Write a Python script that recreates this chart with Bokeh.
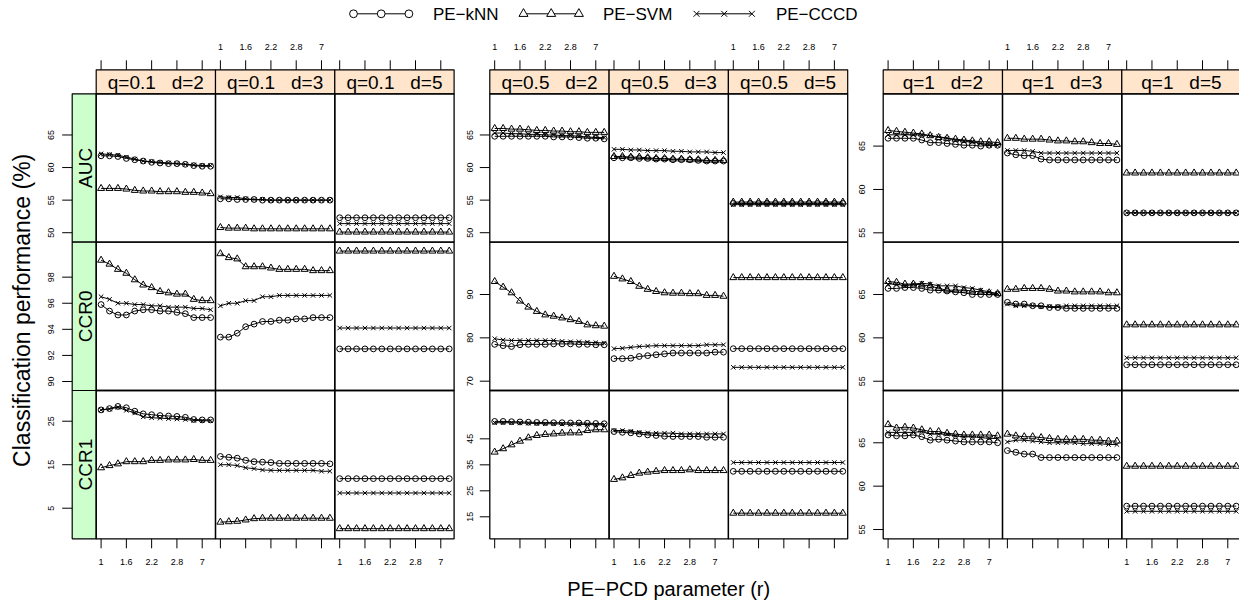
import numpy as np
from bokeh.plotting import figure
from bokeh.models import Range1d
from bokeh.embed import file_html
from bokeh.resources import INLINE
from bokeh.core.properties import value

# ---------------- data ----------------
r_labels = ["1", "1.2", "1.4", "1.6", "1.8", "2", "2.2", "2.4", "2.6", "2.8", "3", "5", "7", "9"]
x_index = list(range(1, 15))
x_tick_index = [1, 4, 7, 10, 13]
x_tick_labels = ["1", "1.6", "2.2", "2.8", "7"]

q_values = ["0.1", "0.5", "1"]
d_values = [2, 3, 5]
measures = ["AUC", "CCR0", "CCR1"]
methods = ["kNN", "SVM", "CCCD"]
method_labels = ["PE\u2212kNN", "PE\u2212SVM", "PE\u2212CCCD"]

# q = 0.1
q01_d2_AUC = dict(
    kNN=[61.8, 61.8, 61.7, 61.4, 61.2, 61.0, 60.8, 60.7, 60.6, 60.6, 60.5, 60.3, 60.2, 60.2],
    SVM=[56.8, 56.8, 56.8, 56.7, 56.5, 56.4, 56.4, 56.3, 56.3, 56.3, 56.2, 56.2, 56.1, 56.0],
    CCCD=[62.1, 62.0, 61.9, 61.6, 61.3, 61.0, 60.9, 60.8, 60.7, 60.6, 60.5, 60.4, 60.3, 60.3])
q01_d3_AUC = dict(
    kNN=[55.2, 55.2, 55.1, 55.1, 55.1, 55.0, 55.0, 55.0, 55.0, 55.0, 55.0, 55.0, 55.0, 55.0],
    SVM=[50.8, 50.7, 50.7, 50.7, 50.6, 50.6, 50.6, 50.6, 50.6, 50.6, 50.6, 50.6, 50.6, 50.6],
    CCCD=[55.5, 55.4, 55.4, 55.2, 55.1, 55.1, 55.0, 55.0, 55.0, 55.0, 55.0, 55.0, 55.0, 55.0])
q01_d5_AUC = dict(
    kNN=[52.3, 52.3, 52.3, 52.3, 52.3, 52.3, 52.3, 52.3, 52.3, 52.3, 52.3, 52.3, 52.3, 52.3],
    SVM=[50.1, 50.1, 50.1, 50.1, 50.1, 50.1, 50.1, 50.1, 50.1, 50.1, 50.1, 50.1, 50.1, 50.1],
    CCCD=[51.4, 51.4, 51.4, 51.4, 51.4, 51.4, 51.4, 51.4, 51.4, 51.4, 51.4, 51.4, 51.4, 51.4])
q01_d2_CCR0 = dict(
    kNN=[95.9, 95.4, 95.1, 95.1, 95.4, 95.5, 95.5, 95.4, 95.4, 95.3, 95.2, 94.9, 94.9, 94.9],
    SVM=[99.3, 99.0, 98.6, 98.3, 97.8, 97.4, 97.2, 96.9, 96.8, 96.7, 96.7, 96.3, 96.2, 96.2],
    CCCD=[96.5, 96.3, 96.0, 96.0, 95.9, 95.9, 95.8, 95.8, 95.7, 95.7, 95.7, 95.6, 95.6, 95.5])
q01_d3_CCR0 = dict(
    kNN=[93.4, 93.4, 93.7, 94.2, 94.4, 94.6, 94.6, 94.7, 94.7, 94.8, 94.8, 94.9, 94.9, 94.9],
    SVM=[99.8, 99.5, 99.4, 98.8, 98.8, 98.8, 98.7, 98.6, 98.6, 98.6, 98.6, 98.5, 98.5, 98.5],
    CCCD=[95.8, 96.0, 96.0, 96.2, 96.2, 96.5, 96.5, 96.6, 96.6, 96.6, 96.6, 96.6, 96.6, 96.6])
q01_d5_CCR0 = dict(
    kNN=[92.5, 92.5, 92.5, 92.5, 92.5, 92.5, 92.5, 92.5, 92.5, 92.5, 92.5, 92.5, 92.5, 92.5],
    SVM=[100.0, 100.0, 100.0, 100.0, 100.0, 100.0, 100.0, 100.0, 100.0, 100.0, 100.0, 100.0, 100.0, 100.0],
    CCCD=[94.1, 94.1, 94.1, 94.1, 94.1, 94.1, 94.1, 94.1, 94.1, 94.1, 94.1, 94.1, 94.1, 94.1])
q01_d2_CCR1 = dict(
    kNN=[27.6, 27.9, 28.4, 28.1, 27.3, 26.7, 26.5, 26.3, 26.2, 26.1, 25.9, 25.4, 25.3, 25.3],
    SVM=[14.3, 14.8, 15.2, 15.7, 15.7, 15.7, 16.0, 16.0, 16.1, 16.1, 16.1, 16.2, 16.0, 16.0],
    CCCD=[27.6, 27.8, 28.2, 27.5, 26.9, 26.0, 25.8, 25.7, 25.6, 25.5, 25.4, 25.2, 25.1, 25.1])
q01_d3_CCR1 = dict(
    kNN=[16.9, 16.7, 16.5, 16.0, 15.7, 15.6, 15.5, 15.3, 15.3, 15.3, 15.3, 15.3, 15.3, 15.2],
    SVM=[1.8, 1.9, 2.0, 2.3, 2.6, 2.7, 2.7, 2.7, 2.7, 2.7, 2.7, 2.7, 2.7, 2.7],
    CCCD=[15.0, 15.0, 14.8, 14.3, 14.1, 13.8, 13.7, 13.7, 13.7, 13.7, 13.7, 13.7, 13.5, 13.5])
q01_d5_CCR1 = dict(
    kNN=[11.8, 11.8, 11.8, 11.8, 11.8, 11.8, 11.8, 11.8, 11.8, 11.8, 11.8, 11.8, 11.8, 11.8],
    SVM=[0.3, 0.3, 0.3, 0.3, 0.3, 0.3, 0.3, 0.3, 0.3, 0.3, 0.3, 0.3, 0.3, 0.3],
    CCCD=[8.5, 8.5, 8.5, 8.5, 8.5, 8.5, 8.5, 8.5, 8.5, 8.5, 8.5, 8.5, 8.5, 8.5])

# q = 0.5
q05_d2_AUC = dict(
    kNN=[64.8, 64.8, 64.8, 64.8, 64.8, 64.8, 64.8, 64.7, 64.7, 64.7, 64.6, 64.5, 64.5, 64.4],
    SVM=[66.0, 66.0, 65.9, 65.9, 65.8, 65.7, 65.7, 65.6, 65.6, 65.5, 65.5, 65.4, 65.4, 65.4],
    CCCD=[65.3, 65.3, 65.2, 65.2, 65.1, 65.1, 65.0, 65.0, 64.9, 64.9, 64.8, 64.7, 64.6, 64.6])
q05_d3_AUC = dict(
    kNN=[61.5, 61.5, 61.5, 61.4, 61.4, 61.3, 61.3, 61.2, 61.2, 61.2, 61.1, 61.0, 61.0, 61.0],
    SVM=[61.7, 61.7, 61.6, 61.6, 61.5, 61.4, 61.4, 61.3, 61.3, 61.2, 61.2, 61.1, 61.1, 61.1],
    CCCD=[62.8, 62.8, 62.7, 62.7, 62.6, 62.6, 62.6, 62.5, 62.5, 62.4, 62.4, 62.4, 62.3, 62.3])
q05_d5_AUC = dict(
    kNN=[54.5, 54.5, 54.5, 54.5, 54.5, 54.5, 54.5, 54.5, 54.5, 54.5, 54.5, 54.5, 54.5, 54.5],
    SVM=[54.7, 54.7, 54.7, 54.7, 54.7, 54.7, 54.7, 54.7, 54.7, 54.7, 54.7, 54.7, 54.7, 54.7],
    CCCD=[54.3, 54.3, 54.3, 54.3, 54.3, 54.3, 54.3, 54.3, 54.3, 54.3, 54.3, 54.3, 54.3, 54.3])
q05_d2_CCR0 = dict(
    kNN=[78.5, 78.2, 78.0, 78.4, 78.5, 78.5, 78.5, 78.6, 78.6, 78.6, 78.5, 78.5, 78.4, 78.4],
    SVM=[93.0, 91.7, 90.4, 88.5, 87.1, 86.1, 85.3, 85.0, 84.6, 84.2, 83.8, 83.0, 82.8, 82.7],
    CCCD=[79.8, 79.5, 79.4, 79.4, 79.4, 79.4, 79.4, 79.4, 79.2, 79.1, 79.1, 79.0, 78.9, 78.8])
q05_d3_CCR0 = dict(
    kNN=[75.2, 75.2, 75.3, 75.7, 75.9, 76.1, 76.3, 76.5, 76.5, 76.5, 76.5, 76.5, 76.7, 76.7],
    SVM=[94.2, 93.6, 93.0, 91.9, 91.2, 90.7, 90.4, 90.3, 90.3, 90.2, 90.2, 89.8, 89.8, 89.6],
    CCCD=[77.5, 77.6, 77.8, 78.0, 78.1, 78.2, 78.2, 78.2, 78.2, 78.2, 78.2, 78.4, 78.4, 78.4])
q05_d5_CCR0 = dict(
    kNN=[77.5, 77.5, 77.5, 77.5, 77.5, 77.5, 77.5, 77.5, 77.5, 77.5, 77.5, 77.5, 77.5, 77.5],
    SVM=[93.9, 93.9, 93.9, 93.9, 93.9, 93.9, 93.9, 93.9, 93.9, 93.9, 93.9, 93.9, 93.9, 93.9],
    CCCD=[73.2, 73.2, 73.2, 73.2, 73.2, 73.2, 73.2, 73.2, 73.2, 73.2, 73.2, 73.2, 73.2, 73.2])
q05_d2_CCR1 = dict(
    kNN=[51.7, 51.7, 51.6, 51.5, 51.4, 51.3, 51.3, 51.2, 51.2, 51.1, 51.1, 51.0, 50.9, 50.8],
    SVM=[39.9, 41.2, 42.7, 44.1, 45.4, 46.3, 46.7, 46.9, 47.2, 47.3, 47.3, 48.2, 48.5, 48.5],
    CCCD=[51.2, 51.2, 51.2, 51.1, 51.0, 50.9, 50.8, 50.8, 50.7, 50.6, 50.6, 50.5, 50.4, 50.4])
q05_d3_CCR1 = dict(
    kNN=[47.8, 47.5, 47.3, 46.9, 46.5, 46.3, 46.0, 45.9, 45.9, 45.9, 45.9, 45.6, 45.6, 45.6],
    SVM=[29.4, 30.0, 30.9, 31.8, 32.2, 32.5, 32.8, 32.8, 32.8, 33.1, 32.8, 32.8, 32.8, 32.8],
    CCCD=[48.2, 48.2, 47.9, 47.5, 47.3, 47.2, 47.2, 47.2, 46.9, 46.9, 46.9, 46.9, 46.9, 46.9])
q05_d5_CCR1 = dict(
    kNN=[32.5, 32.5, 32.5, 32.5, 32.5, 32.5, 32.5, 32.5, 32.5, 32.5, 32.5, 32.5, 32.5, 32.5],
    SVM=[16.4, 16.4, 16.4, 16.4, 16.4, 16.4, 16.4, 16.4, 16.4, 16.4, 16.4, 16.4, 16.4, 16.4],
    CCCD=[35.9, 35.9, 35.9, 35.9, 35.9, 35.9, 35.9, 35.9, 35.9, 35.9, 35.9, 35.9, 35.9, 35.9])

# q = 1
q1_d2_AUC = dict(
    kNN=[65.9, 65.9, 65.9, 65.9, 65.7, 65.4, 65.4, 65.3, 65.2, 65.1, 65.1, 65.0, 65.1, 65.1],
    SVM=[66.8, 66.7, 66.6, 66.5, 66.4, 66.2, 66.0, 65.9, 65.8, 65.7, 65.6, 65.5, 65.5, 65.4],
    CCCD=[66.3, 66.3, 66.3, 66.3, 66.3, 66.2, 66.1, 65.9, 65.7, 65.6, 65.5, 65.3, 65.1, 65.1])
q1_d3_AUC = dict(
    kNN=[64.2, 64.0, 63.9, 63.9, 63.5, 63.4, 63.4, 63.4, 63.4, 63.4, 63.4, 63.4, 63.4, 63.4],
    SVM=[65.9, 65.9, 65.8, 65.8, 65.8, 65.7, 65.6, 65.6, 65.5, 65.5, 65.4, 65.3, 65.3, 65.2],
    CCCD=[64.5, 64.5, 64.5, 64.4, 64.2, 64.2, 64.2, 64.2, 64.2, 64.2, 64.2, 64.2, 64.2, 64.2])
q1_d5_AUC = dict(
    kNN=[57.3, 57.3, 57.3, 57.3, 57.3, 57.3, 57.3, 57.3, 57.3, 57.3, 57.3, 57.3, 57.3, 57.3],
    SVM=[61.9, 61.9, 61.9, 61.9, 61.9, 61.9, 61.9, 61.9, 61.9, 61.9, 61.9, 61.9, 61.9, 61.9],
    CCCD=[57.3, 57.3, 57.3, 57.3, 57.3, 57.3, 57.3, 57.3, 57.3, 57.3, 57.3, 57.3, 57.3, 57.3])
q1_d2_CCR0 = dict(
    kNN=[65.7, 65.7, 65.8, 65.8, 65.7, 65.5, 65.5, 65.4, 65.3, 65.2, 65.0, 65.0, 65.0, 65.0],
    SVM=[66.5, 66.4, 66.2, 66.2, 66.1, 66.0, 65.7, 65.5, 65.5, 65.5, 65.4, 65.3, 65.2, 65.1],
    CCCD=[66.2, 66.2, 66.0, 66.2, 66.3, 66.2, 66.0, 66.0, 66.0, 65.8, 65.7, 65.5, 65.3, 65.1])
q1_d3_CCR0 = dict(
    kNN=[64.1, 63.9, 63.9, 63.7, 63.7, 63.5, 63.5, 63.4, 63.4, 63.4, 63.4, 63.4, 63.4, 63.4],
    SVM=[65.6, 65.6, 65.7, 65.7, 65.7, 65.6, 65.4, 65.4, 65.3, 65.3, 65.3, 65.3, 65.2, 65.2],
    CCCD=[63.9, 63.7, 63.7, 63.7, 63.6, 63.6, 63.6, 63.7, 63.7, 63.7, 63.7, 63.7, 63.7, 63.7])
q1_d5_CCR0 = dict(
    kNN=[56.9, 56.9, 56.9, 56.9, 56.9, 56.9, 56.9, 56.9, 56.9, 56.9, 56.9, 56.9, 56.9, 56.9],
    SVM=[61.5, 61.5, 61.5, 61.5, 61.5, 61.5, 61.5, 61.5, 61.5, 61.5, 61.5, 61.5, 61.5, 61.5],
    CCCD=[57.7, 57.7, 57.7, 57.7, 57.7, 57.7, 57.7, 57.7, 57.7, 57.7, 57.7, 57.7, 57.7, 57.7])
q1_d2_CCR1 = dict(
    kNN=[65.9, 65.8, 65.8, 65.9, 65.7, 65.3, 65.4, 65.3, 65.2, 65.1, 65.1, 65.1, 65.1, 65.0],
    SVM=[67.1, 66.7, 66.8, 66.7, 66.5, 66.3, 66.3, 66.1, 66.0, 65.9, 65.9, 65.9, 65.9, 65.8],
    CCCD=[66.2, 66.2, 66.2, 66.2, 66.3, 66.0, 66.0, 66.0, 65.8, 65.7, 65.7, 65.6, 65.5, 65.5])
q1_d3_CCR1 = dict(
    kNN=[64.1, 63.9, 63.7, 63.7, 63.3, 63.3, 63.3, 63.3, 63.3, 63.3, 63.3, 63.3, 63.3, 63.3],
    SVM=[66.0, 65.8, 65.7, 65.7, 65.6, 65.5, 65.4, 65.4, 65.4, 65.4, 65.3, 65.3, 65.2, 65.2],
    CCCD=[65.1, 65.3, 65.3, 65.2, 65.1, 65.0, 65.0, 65.0, 65.0, 64.9, 64.9, 64.9, 64.8, 64.8])
q1_d5_CCR1 = dict(
    kNN=[57.7, 57.7, 57.7, 57.7, 57.7, 57.7, 57.7, 57.7, 57.7, 57.7, 57.7, 57.7, 57.7, 57.7],
    SVM=[62.3, 62.3, 62.3, 62.3, 62.3, 62.3, 62.3, 62.3, 62.3, 62.3, 62.3, 62.3, 62.3, 62.3],
    CCCD=[57.1, 57.1, 57.1, 57.1, 57.1, 57.1, 57.1, 57.1, 57.1, 57.1, 57.1, 57.1, 57.1, 57.1])

panels = {
    ("0.1", 2, "AUC"): q01_d2_AUC, ("0.1", 3, "AUC"): q01_d3_AUC, ("0.1", 5, "AUC"): q01_d5_AUC,
    ("0.1", 2, "CCR0"): q01_d2_CCR0, ("0.1", 3, "CCR0"): q01_d3_CCR0, ("0.1", 5, "CCR0"): q01_d5_CCR0,
    ("0.1", 2, "CCR1"): q01_d2_CCR1, ("0.1", 3, "CCR1"): q01_d3_CCR1, ("0.1", 5, "CCR1"): q01_d5_CCR1,
    ("0.5", 2, "AUC"): q05_d2_AUC, ("0.5", 3, "AUC"): q05_d3_AUC, ("0.5", 5, "AUC"): q05_d5_AUC,
    ("0.5", 2, "CCR0"): q05_d2_CCR0, ("0.5", 3, "CCR0"): q05_d3_CCR0, ("0.5", 5, "CCR0"): q05_d5_CCR0,
    ("0.5", 2, "CCR1"): q05_d2_CCR1, ("0.5", 3, "CCR1"): q05_d3_CCR1, ("0.5", 5, "CCR1"): q05_d5_CCR1,
    ("1", 2, "AUC"): q1_d2_AUC, ("1", 3, "AUC"): q1_d3_AUC, ("1", 5, "AUC"): q1_d5_AUC,
    ("1", 2, "CCR0"): q1_d2_CCR0, ("1", 3, "CCR0"): q1_d3_CCR0, ("1", 5, "CCR0"): q1_d5_CCR0,
    ("1", 2, "CCR1"): q1_d2_CCR1, ("1", 3, "CCR1"): q1_d3_CCR1, ("1", 5, "CCR1"): q1_d5_CCR1,
}

# axis limits and ticks for each (q, measure)
y_limits = {
    ("0.1", "AUC"): (48.56, 71.32), ("0.1", "CCR0"): (89.31, 100.68), ("0.1", "CCR1"): (-2.03, 32.06),
    ("0.5", "AUC"): (48.56, 71.32), ("0.5", "CCR0"): (67.85, 102.07), ("0.5", "CCR1"): (6.54, 63.6),
    ("1", "AUC"): (53.93, 71.03), ("1", "CCR0"): (53.93, 71.03), ("1", "CCR1"): (53.93, 71.03),
}
y_ticks = {
    ("0.1", "AUC"): [50, 55, 60, 65], ("0.1", "CCR0"): [90, 92, 94, 96, 98], ("0.1", "CCR1"): [5, 15, 25],
    ("0.5", "AUC"): [50, 55, 60, 65], ("0.5", "CCR0"): [70, 80, 90], ("0.5", "CCR1"): [15, 25, 35, 45],
    ("1", "AUC"): [55, 60, 65], ("1", "CCR0"): [55, 60, 65], ("1", "CCR1"): [55, 60, 65],
}
X_LO, X_HI = 0.42, 14.58

# ---------------- layout (pixels) ----------------
W, H = 1239, 603
GX = [95.7, 489.3, 882.7]
PW = 119.3
RY = [93.3, 241.7, 390.0]
PH = 148.3
STRIP_TOP = 69.3
GREEN_LEFT = 71.7
TICK = 9.5
YLAB_X = [50.0, 469.0, 861.0]
TOP_LABEL_COLS = {0: [1], 1: [0, 2], 2: [1]}
BOTTOM_LABEL_COLS = {0: [0, 2], 1: [1], 2: [0, 2]}
FONT = value("Liberation Sans")
PEACH = "#ffe5cc"
GREEN = "#ccffcc"
MARKERS = {"kNN": ("circle", 5.8), "SVM": ("triangle", 7.0), "CCCD": ("x", 6.3)}
NB = "\u00a0"


def xrange_for(px0, px1, lo, hi):
    s = (hi - lo) / (px1 - px0)
    start = lo - px0 * s
    return Range1d(start=start, end=start + W * s)


def yrange_for(pytop, pybot, lo, hi):
    s = (hi - lo) / (pybot - pytop)
    return Range1d(start=lo - (H - pybot) * s, end=hi + pytop * s)


p = figure(width=W, height=H, x_range=Range1d(0, W), y_range=Range1d(H, 0),
           x_axis_type=None, y_axis_type=None, toolbar_location=None,
           min_border=0, output_backend="svg", title=None)
p.outline_line_color = None
p.background_fill_color = "white"
p.border_fill_color = "white"

xr, yr = {}, {}
for gi in range(3):
    for ci in range(3):
        px0 = GX[gi] + ci * PW
        xr[f"x{gi}{ci}"] = xrange_for(px0, px0 + PW, X_LO, X_HI)
    for ri, m in enumerate(measures):
        lo, hi = y_limits[(q_values[gi], m)]
        yr[f"y{gi}{ri}"] = yrange_for(RY[ri], RY[ri] + PH, lo, hi)
p.extra_x_ranges = xr
p.extra_y_ranges = yr

# strips
for gi, q in enumerate(q_values):
    lefts = [GX[gi] + ci * PW for ci in range(3)]
    p.quad(left=lefts, right=[l + PW for l in lefts], top=[STRIP_TOP] * 3, bottom=[RY[0]] * 3,
           fill_color=PEACH, line_color="black", line_width=1.2)
    p.text(x=[l + PW / 2 for l in lefts], y=[(STRIP_TOP + RY[0]) / 2 + 1] * 3,
           text=[f"q={q}{NB * 3}d={d}" for d in d_values], text_font=FONT, text_font_size="19px",
           text_align="center", text_baseline="middle", text_color="black")

# row strips (left of first group)
p.quad(left=[GREEN_LEFT] * 3, right=[GX[0]] * 3, top=RY, bottom=[y + PH for y in RY],
       fill_color=GREEN, line_color="black", line_width=1.2)
p.text(x=[(GREEN_LEFT + GX[0]) / 2 + 1] * 3, y=[y + PH / 2 for y in RY], text=measures,
       angle=np.pi / 2, text_font=FONT, text_font_size="19px",
       text_align="center", text_baseline="middle", text_color="black")

# data
for gi, q in enumerate(q_values):
    for ci, d in enumerate(d_values):
        xn = f"x{gi}{ci}"
        for ri, m in enumerate(measures):
            yn = f"y{gi}{ri}"
            series = panels[(q, d, m)]
            for meth in methods:
                mk, sz = MARKERS[meth]
                p.line(x_index, series[meth], x_range_name=xn, y_range_name=yn,
                       line_color="black", line_width=1)
                p.scatter(x_index, series[meth], x_range_name=xn, y_range_name=yn,
                          marker=mk, size=sz, fill_color=None, line_color="black", line_width=1)

# panel borders
for gi in range(3):
    lefts, tops = [], []
    for ci in range(3):
        for ri in range(3):
            lefts.append(GX[gi] + ci * PW)
            tops.append(RY[ri])
    p.quad(left=lefts, right=[l + PW for l in lefts], top=tops, bottom=[t + PH for t in tops],
           fill_color=None, line_color="black", line_width=1.3)

# x ticks (top and bottom) and labels
BOTTOM = RY[2] + PH
for gi in range(3):
    for ci in range(3):
        xn = f"x{gi}{ci}"
        n = len(x_tick_index)
        p.segment(x0=x_tick_index, x1=x_tick_index, y0=[STRIP_TOP] * n, y1=[STRIP_TOP - TICK] * n,
                  x_range_name=xn, line_color="black", line_width=1)
        p.segment(x0=x_tick_index, x1=x_tick_index, y0=[BOTTOM] * n, y1=[BOTTOM + TICK] * n,
                  x_range_name=xn, line_color="black", line_width=1)
        if ci in TOP_LABEL_COLS[gi]:
            p.text(x=x_tick_index, y=[STRIP_TOP - TICK - 13] * n, text=x_tick_labels,
                   x_range_name=xn, text_font=FONT, text_font_size="9px",
                   text_align="center", text_baseline="middle", text_color="black")
        if ci in BOTTOM_LABEL_COLS[gi]:
            p.text(x=x_tick_index, y=[BOTTOM + TICK + 14] * n, text=x_tick_labels,
                   x_range_name=xn, text_font=FONT, text_font_size="9px",
                   text_align="center", text_baseline="middle", text_color="black")

# y ticks and labels
for gi, q in enumerate(q_values):
    edge = GREEN_LEFT if gi == 0 else GX[gi]
    for ri, m in enumerate(measures):
        yn = f"y{gi}{ri}"
        t = y_ticks[(q, m)]
        n = len(t)
        p.segment(x0=[edge] * n, x1=[edge - TICK - 0.5] * n, y0=t, y1=t, y_range_name=yn,
                  line_color="black", line_width=1)
        p.text(x=[YLAB_X[gi]] * n, y=t, text=[str(v) for v in t], y_range_name=yn,
               angle=np.pi / 2, text_font=FONT, text_font_size="9px",
               text_align="center", text_baseline="middle", text_color="black")

# axis titles
p.text(x=[21], y=[(RY[0] + BOTTOM) / 2 - 6], text=["Classification performance (%)"], angle=np.pi / 2,
       text_font=FONT, text_font_size="23px", text_align="center", text_baseline="middle",
       text_color="black")
p.text(x=[GX[1] + 1.5 * PW], y=[588], text=["PE\u2212PCD parameter (r)"],
       text_font=FONT, text_font_size="20px", text_align="center", text_baseline="middle",
       text_color="black")

# legend (key)
LEG_Y = 13.3
LEG_X = [353.0, 523.0, 696.0]
LEG_STEP = 27.7
for k, meth in enumerate(methods):
    mk, sz = MARKERS[meth]
    xs = [LEG_X[k] + j * LEG_STEP for j in range(3)]
    p.line(xs, [LEG_Y] * 3, line_color="black", line_width=1)
    p.scatter(xs, [LEG_Y] * 3, marker=mk, size=sz + 2, fill_color="white",
              line_color="black", line_width=1)
    p.text(x=[xs[-1] + 24], y=[LEG_Y + 1], text=[method_labels[k]], text_font=FONT,
           text_font_size="17px", text_align="left", text_baseline="middle", text_color="black")

open("out.html", "w").write(file_html(p, INLINE))
